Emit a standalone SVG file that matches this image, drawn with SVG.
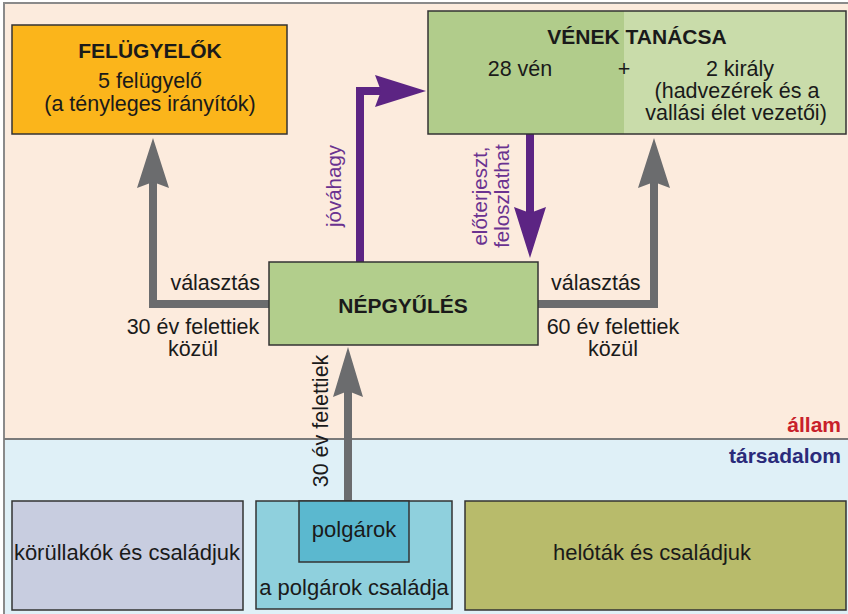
<svg xmlns="http://www.w3.org/2000/svg" width="848" height="614" viewBox="0 0 848 614">
<style>
  text { font-family: "Liberation Sans", Arial, sans-serif; fill: #1a1a1a; }
  .t { font-size: 21.5px; }
  .b { font-size: 21px; font-weight: bold; }
  .c { text-anchor: middle; }
  .box { stroke: #333; stroke-width: 1.5; }
  .gray { stroke: #6b6c6e; stroke-width: 8; fill: none; stroke-linejoin: miter; }
  .grayh { fill: #6b6c6e; }
  .pur { stroke: #5c2483; stroke-width: 8; fill: none; stroke-linejoin: miter; }
  .purh { fill: #5c2483; }
  .pt { fill: #6a3290; font-size: 20.5px; }
</style>
<g id="background">
  <rect x="0" y="0" width="848" height="614" fill="#ffffff"/>
  <rect x="4" y="3" width="848" height="436" fill="#fcebdd"/>
  <rect x="4" y="439" width="848" height="180" fill="#dff0f7"/>
  <path d="M4,614 V3 H848" fill="none" stroke="#8a8a8a" stroke-width="2"/>
  <line x1="4" y1="439" x2="848" y2="439" stroke="#7a7a7a" stroke-width="2"/>
  <text x="841" y="432" style="font-size:21px;font-weight:bold;fill:#c8202a;text-anchor:end">állam</text>
  <text x="841" y="463" style="font-size:21px;font-weight:bold;fill:#2a2a7a;text-anchor:end">társadalom</text>
</g>
<g id="connectors">
  <path class="gray" d="M269,304 H153 V180"/>
  <polygon class="grayh" points="153,138 169,188 153,182 137,188"/>
  <path class="gray" d="M538,304 H654 V180"/>
  <polygon class="grayh" points="654,138 670,188 654,182 638,188"/>
  <path class="gray" d="M348,501 V390"/>
  <polygon class="grayh" points="348,347 363,397 348,391 333,397"/>
  <path class="pur" d="M360,262 V91 H382"/>
  <polygon class="purh" points="426,91 375,75 381,91 375,107"/>
  <path class="pur" d="M530,134 V215"/>
  <polygon class="purh" points="530,258 546,207 530,213 514,207"/>
  <text class="pt c" transform="translate(341,186) rotate(-90)">jóváhagy</text>
  <text class="pt c" transform="translate(487,196) rotate(-90)">előterjeszt,</text>
  <text class="pt c" transform="translate(509,196) rotate(-90)">feloszlathat</text>
  <text class="t c" transform="translate(328,421) rotate(-90)">30 év felettiek</text>
  <text class="t" x="260" y="290" text-anchor="end">választás</text>
  <text class="t c" x="193" y="334">30 év felettiek</text>
  <text class="t c" x="193" y="356">közül</text>
  <text class="t" x="551" y="290">választás</text>
  <text class="t c" x="613" y="334">60 év felettiek</text>
  <text class="t c" x="613" y="356">közül</text>
</g>
<g id="felugyelok">
  <rect class="box" x="12" y="25" width="275" height="109" fill="#fbb51b"/>
  <text class="b c" x="150" y="58">FELÜGYELŐK</text>
  <text class="t c" x="150" y="88">5 felügyelő</text>
  <text class="t c" x="150" y="111">(a tényleges irányítók)</text>
</g>
<g id="venek-tanacsa">
  <rect x="428" y="11" width="196" height="123" fill="#b1cc8b"/>
  <rect x="624" y="11" width="222" height="123" fill="#c9dcaa"/>
  <rect class="box" x="428" y="11" width="418" height="123" fill="none"/>
  <text class="b c" x="637" y="44">VÉNEK TANÁCSA</text>
  <text class="t c" x="520" y="76">28 vén</text>
  <text class="t c" x="624" y="76">+</text>
  <text class="t c" x="740" y="76">2 király</text>
  <text class="t c" x="737" y="98">(hadvezérek és a</text>
  <text class="t c" x="736" y="120">vallási élet vezetői)</text>
</g>
<g id="nepgyules">
  <rect class="box" x="269" y="262" width="269" height="83" fill="#b2ce8c"/>
  <text class="b c" x="403" y="313">NÉPGYŰLÉS</text>
</g>
<g id="korullakok">
  <rect class="box" x="12" y="501" width="231" height="109" fill="#c8cde0"/>
  <text class="t c" x="127" y="560" style="font-size:22px">körüllakók és családjuk</text>
</g>
<g id="polgarok-csaladja">
  <rect class="box" x="256" y="501" width="196" height="108" fill="#8fd0dd"/>
  <text class="t c" x="354" y="595" style="font-size:22px">a polgárok családja</text>
</g>
<g id="polgarok">
  <rect class="box" x="299" y="501" width="110" height="61" fill="#5bb8cf"/>
  <text class="t c" x="354" y="537" style="font-size:22px">polgárok</text>
</g>
<g id="helotak">
  <rect class="box" x="465" y="501" width="381" height="109" fill="#b8bb6b"/>
  <text class="t c" x="652" y="560" style="font-size:22px">helóták és családjuk</text>
</g>
</svg>
